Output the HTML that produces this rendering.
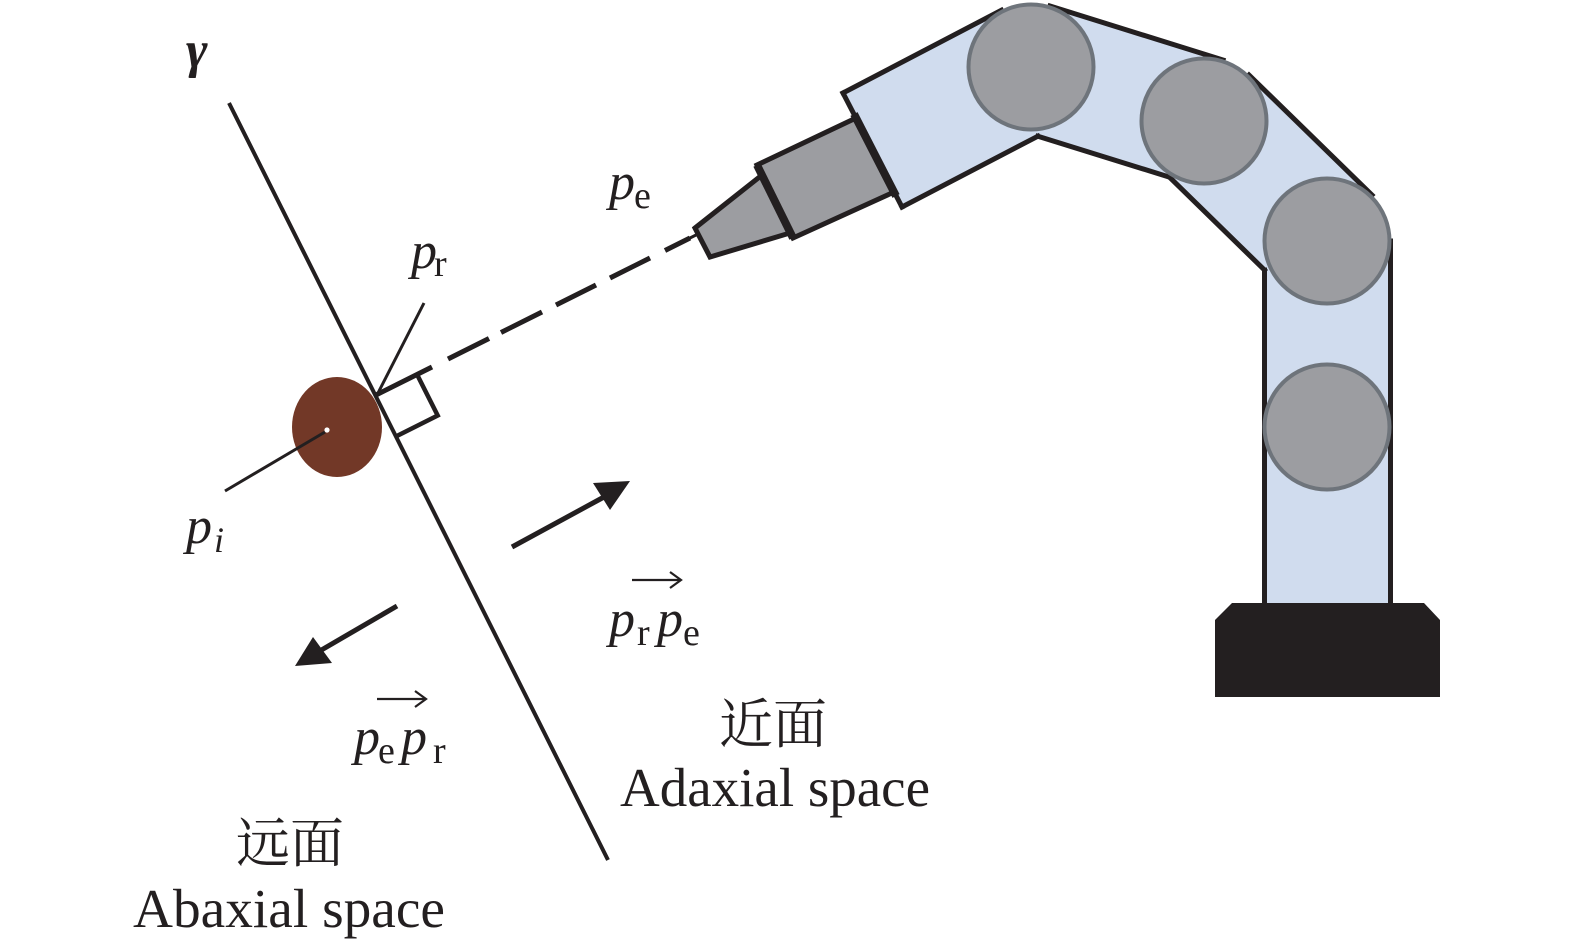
<!DOCTYPE html>
<html>
<head>
<meta charset="utf-8">
<style>
  html, body { margin:0; padding:0; background:#ffffff; }
  body { width:1575px; height:944px; overflow:hidden; }
  svg { display:block; }
  .it { font-family:"Liberation Serif", serif; font-style:italic; fill:#231f20; }
  .rm { font-family:"Liberation Serif", serif; fill:#231f20; }
  .cjk { font-family:"Liberation Serif", "Noto Serif CJK SC", "Noto Sans CJK SC", serif; fill:#231f20; }
</style>
</head>
<body>
<svg width="1575" height="944" viewBox="0 0 1575 944" xmlns="http://www.w3.org/2000/svg">
  <!-- gamma plane line -->
  <line x1="229" y1="103" x2="608" y2="860" stroke="#231f20" stroke-width="4"/>

  <!-- brown point -->
  <ellipse cx="337" cy="427" rx="45" ry="50" fill="#723827"/>
  <circle cx="327" cy="430" r="2.6" fill="#ffffff"/>

  <!-- leader lines -->
  <line x1="378" y1="393" x2="424" y2="303" stroke="#231f20" stroke-width="3"/>
  <line x1="325" y1="432" x2="225" y2="491" stroke="#231f20" stroke-width="3"/>

  <!-- right-angle marker -->
  <polyline points="417,374.4 437.7,415.5 396.6,436.1" fill="none" stroke="#231f20" stroke-width="4.5"/>

  <!-- dashed line p_r -> p_e -->
  <g stroke="#231f20" stroke-width="5" stroke-linecap="butt">
    <line x1="376" y1="395" x2="432" y2="367"/>
    <line x1="448" y1="359" x2="489" y2="338.5"/>
    <line x1="501" y1="332.5" x2="542" y2="312"/>
    <line x1="556" y1="305" x2="596" y2="285"/>
    <line x1="610" y1="278" x2="650" y2="258"/>
    <line x1="665" y1="250.5" x2="690" y2="238"/>
  </g>
  <line x1="688" y1="239" x2="706" y2="230" stroke="#231f20" stroke-width="3"/>

  <!-- direction arrows -->
  <line x1="512" y1="547" x2="604" y2="497" stroke="#231f20" stroke-width="5"/>
  <polygon points="630,481 593,483 610,510" fill="#231f20"/>
  <line x1="397" y1="606" x2="318" y2="652" stroke="#231f20" stroke-width="5"/>
  <polygon points="295,666 313,637 332,663" fill="#231f20"/>

  <!-- robot arm link fills -->
  <g fill="#d0dcee" stroke="none">
    <polygon points="843,93 1001.4,10.2 1060.6,123.8 902,207"/>
    <polygon points="1050,6 1223,60 1185,182 1012,128"/>
    <polygon points="1249,75 1372,195 1282,287 1159,167"/>
    <rect x="1264.5" y="241" width="126" height="362"/>
  </g>
  <!-- link outlines -->
  <g stroke="#231f20" stroke-width="5" stroke-linecap="square" fill="none">
    <line x1="843" y1="93" x2="1001.4" y2="10.2"/>
    <line x1="902" y1="207" x2="1037.9" y2="136.2"/>
    <line x1="843" y1="93" x2="902" y2="207"/>
    <line x1="1050" y1="6" x2="1223" y2="60"/>
    <line x1="1037.9" y1="136.2" x2="1169.4" y2="177.1"/>
    <line x1="1249" y1="75" x2="1372" y2="195"/>
    <line x1="1169.4" y1="177.1" x2="1264.5" y2="270"/>
    <line x1="1264.5" y1="270" x2="1264.5" y2="603"/>
    <line x1="1390.5" y1="241" x2="1390.5" y2="603"/>
  </g>

  <!-- gray block -->
  <polygon points="757,165 856,118 894,192 793,238" fill="#9c9da1" stroke="#231f20" stroke-width="5" stroke-linejoin="miter"/>
  <line x1="854" y1="114" x2="896" y2="196" stroke="#231f20" stroke-width="8"/>

  <!-- tip -->
  <polygon points="695,228 762,175 790,233 710,257" fill="#9c9da1" stroke="#231f20" stroke-width="5" stroke-linejoin="miter"/>
  <line x1="757" y1="165" x2="793" y2="238" stroke="#231f20" stroke-width="8"/>

  <!-- joints -->
  <g fill="#9c9da1" stroke="#6e747b" stroke-width="4">
    <circle cx="1031" cy="67" r="62.5"/>
    <circle cx="1204" cy="121" r="62.5"/>
    <circle cx="1327" cy="241" r="62.5"/>
    <circle cx="1327" cy="427" r="62.5"/>
  </g>

  <!-- base -->
  <polygon points="1215,620 1232,603 1424,603 1440,620 1440,697 1215,697" fill="#231f20"/>

  <!-- labels -->
  <text x="186" y="67" class="it" font-size="52" font-weight="bold">γ</text>

  <text x="609" y="199" class="it" font-size="52">p</text>
  <text x="634" y="208" class="rm" font-size="38">e</text>

  <text x="411" y="268" class="it" font-size="52">p</text>
  <text x="434" y="276" class="rm" font-size="38">r</text>

  <text x="186" y="543" class="it" font-size="52">p</text>
  <text x="214" y="552" class="it" font-size="36">i</text>

  <!-- vector p_r p_e -->
  <g stroke="#231f20" stroke-width="2.2" fill="none">
    <line x1="632" y1="580" x2="681" y2="580"/>
    <polyline points="670,572 681,580 670,588"/>
  </g>
  <text x="609" y="636" class="it" font-size="52">p</text>
  <text x="637" y="645" class="rm" font-size="38">r</text>
  <text x="657" y="636" class="it" font-size="52">p</text>
  <text x="683" y="645" class="rm" font-size="38">e</text>

  <!-- vector p_e p_r -->
  <g stroke="#231f20" stroke-width="2.2" fill="none">
    <line x1="377" y1="699" x2="426" y2="699"/>
    <polyline points="415,691 426,699 415,707"/>
  </g>
  <text x="354" y="754" class="it" font-size="52">p</text>
  <text x="378" y="763" class="rm" font-size="38">e</text>
  <text x="401" y="754" class="it" font-size="52">p</text>
  <text x="433" y="763" class="rm" font-size="38">r</text>

  <!-- region labels -->
  <text x="719" y="743" class="cjk" font-size="54">近面</text>
  <text x="620" y="806" class="rm" font-size="55" textLength="310" lengthAdjust="spacingAndGlyphs">Adaxial space</text>

  <text x="236" y="862" class="cjk" font-size="54">远面</text>
  <text x="133" y="927" class="rm" font-size="55" textLength="312" lengthAdjust="spacingAndGlyphs">Abaxial space</text>
</svg>
</body>
</html>
